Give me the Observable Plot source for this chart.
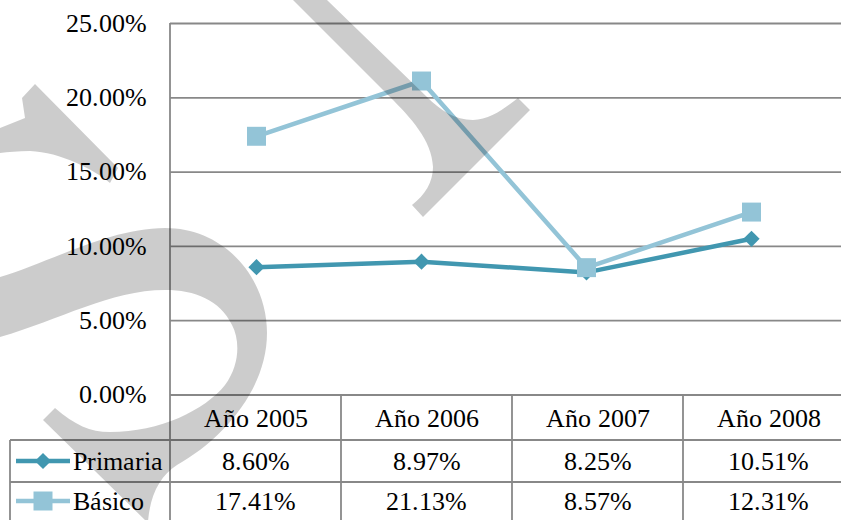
<!DOCTYPE html>
<html><head><meta charset="utf-8">
<script src="https://cdn.jsdelivr.net/npm/d3@7"></script>
<script src="https://cdn.jsdelivr.net/npm/@observablehq/plot@0.6"></script>
<style>
@font-face{font-family:"ChartSerif";src:local("Liberation Serif"),local("LiberationSerif-Regular"),local("LiberationSerif"),local("Times New Roman"),local("DejaVu Serif"),local("DejaVuSerif");}
html,body{margin:0;padding:0;background:#fff}#chart svg{display:block}
</style>
</head><body><div id="chart"></div>
<script>
// ---- data ----
const years = ["Año 2005", "Año 2006", "Año 2007", "Año 2008"];
const seriesNames = ["Primaria", "Básico"];
const primaria = [0.0860, 0.0897, 0.0825, 0.1051];
const basico = [0.1741, 0.2113, 0.0857, 0.1231];
const yTicks = [0, 0.05, 0.10, 0.15, 0.20, 0.25];

const seriesValues = {"Primaria": primaria, "Básico": basico};
const data = seriesNames.flatMap(s => years.map((y, i) => ({series: s, year: y, value: seriesValues[s][i]})));

const colors = ["#4197b0", "#93c4d7"];
const FONT = "ChartSerif, 'Liberation Serif', 'DejaVu Serif', serif";
const FS = 25.5;
const GRID = "#888888";
const W = 841, H = 520;
const fmt = d3.format(".2%");

const chart = Plot.plot({
  width: W, height: H,
  marginLeft: 170, marginRight: 0, marginTop: 23, marginBottom: 125.5,
  style: {fontFamily: FONT, fontSize: FS + "px", background: "#fff", color: "#000", overflow: "hidden"},
  x: {type: "point", domain: years, range: [255.3, 751.2], padding: 0, axis: null},
  y: {domain: [0, 0.25], range: [394.5, 23], axis: null},
  color: {domain: seriesNames, range: colors},
  marks: [
    Plot.ruleY(yTicks, {y: d => d, stroke: GRID, strokeWidth: 1.8}),
    Plot.axisY(yTicks, {tickSize: 0, tickPadding: 23.5, tickFormat: fmt, label: null, fill: "#000", fontSize: FS, fontFamily: FONT}),
    Plot.line(data, {x: "year", y: "value", z: "series", stroke: "series", strokeWidth: 4.5}),
    Plot.dot(data.filter(d => d.series === "Primaria"), {x: "year", y: "value", symbol: "diamond2", r: 7.3, fill: "series"}),
    Plot.dot(data.filter(d => d.series === "Básico"), {x: "year", y: "value", symbol: "square", r: 10.7, fill: "series"})
  ]
});
document.getElementById("chart").appendChild(chart);

// ---- data table below the plot ----
const svg = d3.select(chart);
const yS = chart.scale("y");
const y0 = yS.apply(0);
const yTop = yS.apply(0.25);
const col = d3.scaleBand().domain(years).range([170, 854]);
const rowLines = [440, 482];
const headerY = 418.5, rowY = [462, 502];
const tableLeft = 10;
const colorOf = s => colors[seriesNames.indexOf(s)];

const g = svg.append("g").attr("stroke", GRID).attr("stroke-width", 1.8);
g.append("line").attr("x1", 170).attr("x2", 170).attr("y1", yTop).attr("y2", H);
years.slice(1).forEach(yr => {
  g.append("line").attr("x1", col(yr)).attr("x2", col(yr)).attr("y1", y0).attr("y2", H);
});
g.append("line").attr("x1", tableLeft).attr("x2", tableLeft).attr("y1", rowLines[0]).attr("y2", H);
rowLines.forEach(yy => g.append("line").attr("x1", tableLeft).attr("x2", W).attr("y1", yy).attr("y2", yy));

const t = svg.append("g").style("font-family", FONT).style("font-size", FS + "px").attr("fill", "#000").attr("text-anchor", "middle");
years.forEach(yr => {
  t.append("text").attr("x", col(yr) + col.bandwidth() / 2).attr("y", headerY).attr("dy", "0.32em").text(yr);
});
seriesNames.forEach((s, si) => {
  years.forEach((yr, i) => {
    t.append("text").attr("x", col(yr) + col.bandwidth() / 2).attr("y", rowY[si]).attr("dy", "0.32em").text(fmt(seriesValues[s][i]));
  });
  t.append("text").attr("x", 73).attr("y", rowY[si]).attr("dy", "0.32em").attr("text-anchor", "start").text(s);
  // legend key
  svg.append("line").attr("x1", 16).attr("x2", 70).attr("y1", rowY[si] - 1).attr("y2", rowY[si] - 1)
    .attr("stroke", colorOf(s)).attr("stroke-width", 4.5);
  svg.append("path").attr("transform", `translate(43,${rowY[si] - 1})`)
    .attr("d", d3.symbol(si === 0 ? d3.symbolDiamond2 : d3.symbolSquare, si === 0 ? Math.PI * 7.3 * 7.3 : 361)())
    .attr("fill", colorOf(s));
});

// ---- watermark overlay ----
const wm = svg.append("g").attr("fill", "#000").attr("fill-opacity", 0.2).attr("pointer-events", "none");
wm.append("path").attr("d", "M0,128 L25,118 L22,98 L35,84 L118,168 L110,183 C95,170 60,152 30,151 C18,151 8,152 0,153 Z");
wm.append("path").attr("d", "M0,277 C50,262 110,228 165,228 C225,228 267,278 267,333 C267,390 222,440 177,465 C160,476 150,495 148,522 L147,522 L43,420 L55,408 C75,425 90,432 110,432 C160,432 205,410 225,385 C240,365 240,340 232,325 C220,300 195,290 165,290 C110,290 60,320 0,337 Z");
wm.append("path").attr("d", "M293,0 L390,97 C410,117 432,140 433,167 C433,182 425,195 412,205 L423,217 L530,110 L518,98 C505,108 490,120 473,120 C455,120 440,110 427,97 L327,0 Z");
</script>
</body></html>
